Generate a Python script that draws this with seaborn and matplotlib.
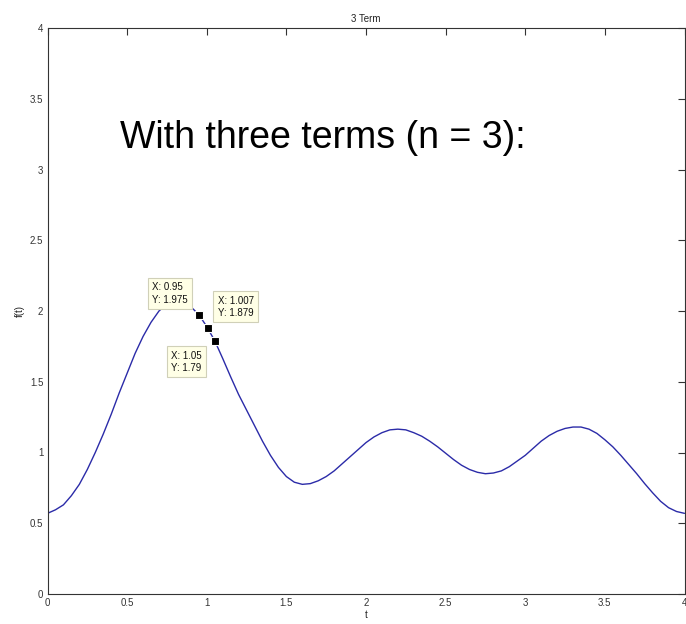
import numpy as np
import pandas as pd
import seaborn as sns
import matplotlib
matplotlib.use('Agg')
import matplotlib.pyplot as plt

# curve (t, f(t))
t_vals = [0.00, 0.05, 0.10, 0.15, 0.20, 0.25, 0.30, 0.35, 0.40, 0.45,
          0.50, 0.55, 0.60, 0.65, 0.70, 0.75, 0.80, 0.85, 0.90, 0.95,
          1.00, 1.05, 1.10, 1.15, 1.20, 1.25, 1.30, 1.35, 1.40, 1.45,
          1.50, 1.55, 1.60, 1.65, 1.70, 1.75, 1.80, 1.85, 1.90, 1.95,
          2.00, 2.05, 2.10, 2.15, 2.20, 2.25, 2.30, 2.35, 2.40, 2.45,
          2.50, 2.55, 2.60, 2.65, 2.70, 2.75, 2.80, 2.85, 2.90, 2.95,
          3.00, 3.05, 3.10, 3.15, 3.20, 3.25, 3.30, 3.35, 3.40, 3.45,
          3.50, 3.55, 3.60, 3.65, 3.70, 3.75, 3.80, 3.85, 3.90, 3.95, 4.00]
f_vals = [0.570, 0.595, 0.630, 0.695, 0.775, 0.880, 1.000, 1.130, 1.270, 1.420,
          1.560, 1.700, 1.820, 1.920, 2.000, 2.050, 2.070, 2.060, 2.030, 1.975,
          1.890, 1.790, 1.665, 1.535, 1.410, 1.300, 1.190, 1.080, 0.980, 0.895,
          0.830, 0.790, 0.775, 0.780, 0.800, 0.830, 0.870, 0.920, 0.970, 1.020,
          1.070, 1.110, 1.140, 1.160, 1.165, 1.160, 1.140, 1.115, 1.080, 1.040,
          0.995, 0.950, 0.910, 0.880, 0.860, 0.850, 0.855, 0.870, 0.900, 0.940,
          0.980, 1.030, 1.080, 1.120, 1.150, 1.170, 1.180, 1.180, 1.165, 1.135,
          1.090, 1.040, 0.980, 0.915, 0.850, 0.780, 0.715, 0.655, 0.610, 0.583, 0.570]

# data tips
tip_x = [0.95, 1.007, 1.05]
tip_y = [1.975, 1.879, 1.79]
tip_labels = ['X: 0.95\nY: 1.975', 'X: 1.007\nY: 1.879', 'X: 1.05\nY: 1.79']

ticks = [0, 0.5, 1, 1.5, 2, 2.5, 3, 3.5, 4]
tick_labels = ['0', '0.5', '1', '1.5', '2', '2.5', '3', '3.5', '4']

sns.set_style('white')
plt.rcParams['font.family'] = ['Liberation Sans', 'DejaVu Sans']

df = pd.DataFrame({'t': t_vals, 'f': f_vals})

fig = plt.figure(figsize=(6.86, 6.24), dpi=100)
ax = fig.add_axes([47.5 / 686, 30 / 624, 637 / 686, 566 / 624])

sns.lineplot(data=df, x='t', y='f', ax=ax, color='#2b2ba8', linewidth=1.0, sort=False)
ax.plot(tip_x, tip_y, linestyle='none', marker='s', markersize=6,
        markerfacecolor='black', markeredgecolor='white', markeredgewidth=0.8, zorder=5)

# box placement relative to each marker (pixels)
offsets = [(-11, 10), (10, 10), (-13, -10)]
aligns = [('right', 'bottom'), ('left', 'bottom'), ('right', 'top')]
for x, y, lab, off, (ha, va) in zip(tip_x, tip_y, tip_labels, offsets, aligns):
    ax.annotate(lab, xy=(x, y), xytext=off, textcoords='offset pixels',
                ha=ha, va=va, multialignment='left', fontsize=7, color='#111111',
                linespacing=1.3,
                bbox=dict(boxstyle='square,pad=0.45', fc='#ffffe6', ec='#d0d0b8', lw=0.8))

ax.set_xlim(0, 4)
ax.set_ylim(0, 4)
ax.set_xticks(ticks)
ax.set_xticklabels(tick_labels)
ax.set_yticks(ticks)
ax.set_yticklabels(tick_labels)
ax.tick_params(direction='in', length=5, width=0.8, colors='#333333', labelsize=7,
               top=True, right=True, labelcolor='#333333', pad=3)
for sp in ax.spines.values():
    sp.set_color('#333333')
    sp.set_linewidth(0.8)

ax.set_title('3 Term', fontsize=7, color='#222222', pad=4)
ax.set_xlabel('t', fontsize=7, color='#222222', labelpad=1)
ax.set_ylabel('f(t)', fontsize=7, color='#222222', labelpad=4)

ax.text(0.455, 3.15, 'With three terms (n = 3):', fontsize=27, color='black',
        ha='left', va='baseline')

fig.savefig('out.png', dpi=100)
